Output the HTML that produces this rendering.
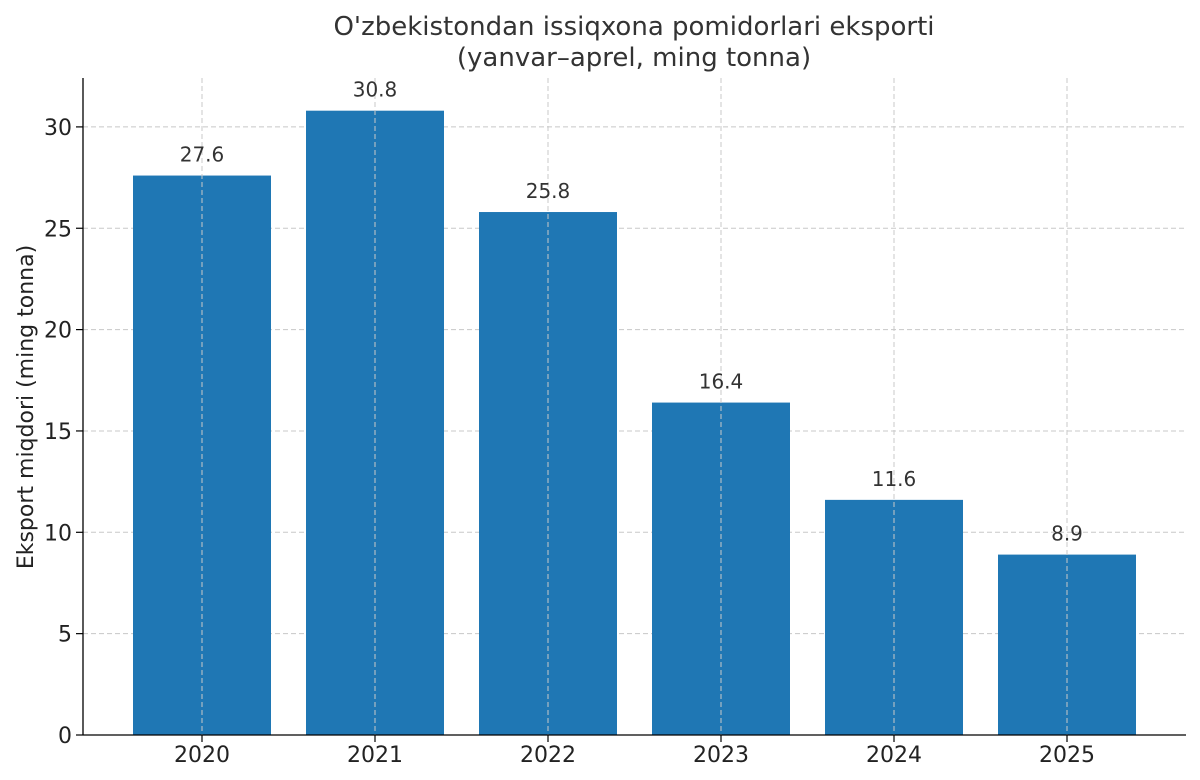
<!DOCTYPE html>
<html><head><meta charset="utf-8"><style>
body{margin:0;background:#fff}
svg{display:block;font-family:"DejaVu Sans","Liberation Sans",sans-serif}
</style></head><body>
<svg id="chart" width="1200" height="780" viewBox="0 0 1200 780">
<text x="634" y="35" text-anchor="middle" font-size="26" fill="#333">O'zbekistondan issiqxona pomidorlari eksporti</text>
<text x="634" y="66" text-anchor="middle" font-size="26" fill="#333">(yanvar–aprel, ming tonna)</text>
<text transform="translate(33,407) rotate(-90)" text-anchor="middle" font-size="22" fill="#222">Eksport miqdori (ming tonna)</text>
<g id="grid"></g><g id="bars"></g><g id="labels"></g><g id="ticks"></g>
<line x1="83" y1="78" x2="83" y2="735.5" stroke="#000" stroke-width="1.3"/>
<line x1="83" y1="735" x2="1186" y2="735" stroke="#000" stroke-width="1.3"/>
</svg>
<script>
const categories=["2020","2021","2022","2023","2024","2025"];
const values=[27.6,30.8,25.8,16.4,11.6,8.9];
const valueLabels=["27.6","30.8","25.8","16.4","11.6","8.9"];
const yTicks=[0,5,10,15,20,25,30];
const NS="http://www.w3.org/2000/svg";
const y0=735,pxPerUnit=20.27;
function yScale(v){return y0-v*pxPerUnit;}
function xScale(i){return 202+i*173;}
const bw=138;
function mk(tag,attrs,parent){const e=document.createElementNS(NS,tag);for(const k in attrs)e.setAttribute(k,attrs[k]);document.getElementById(parent).appendChild(e);return e;}
yTicks.forEach(t=>{
  const y=yScale(t);
  if(t>0){const g=mk("line",{x1:83,x2:1186,y1:y,y2:y,stroke:"#c8c8c8","stroke-dasharray":"5,3","stroke-width":1},"grid");
  
  }
  const tk=mk("line",{x1:76,x2:83,y1:y,y2:y,stroke:"#000","stroke-width":1.2},"ticks");
  
  
  const tl=mk("text",{x:72,y:y+8,"text-anchor":"end","font-size":22,fill:"#222"},"ticks");
  tl.textContent=t;
  
  
});
categories.forEach((c,i)=>{
  const x=xScale(i);
  const b=mk("rect",{x:x-bw/2,y:yScale(values[i]),width:bw,height:y0-yScale(values[i]),fill:"#1f77b4"},"bars");
  
  
  const g=mk("line",{x1:x,x2:x,y1:78,y2:735,stroke:"#c8c8c8","stroke-dasharray":"5,3","stroke-width":1},"labels");
  
  
  const vl=mk("text",{x:x,y:yScale(values[i])-14,"text-anchor":"middle","font-size":20,fill:"#333"},"labels");
  vl.textContent=valueLabels[i];
  
  
  const tk=mk("line",{x1:x,x2:x,y1:735,y2:742,stroke:"#000","stroke-width":1.2},"ticks");
  
  
  const tl=mk("text",{x:x,y:762,"text-anchor":"middle","font-size":22,fill:"#222"},"ticks");
  tl.textContent=c;
  
  
});
</script>
</body></html>
